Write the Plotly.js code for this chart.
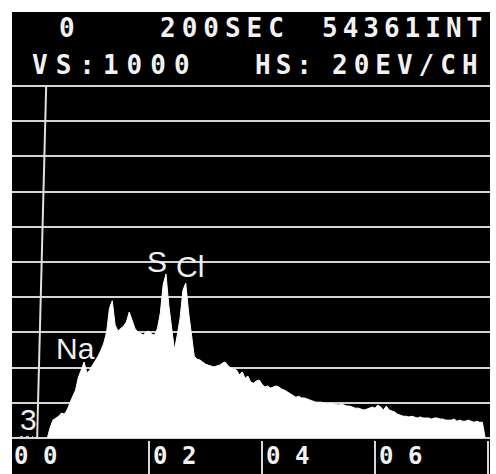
<!DOCTYPE html>
<html>
<head>
<meta charset="utf-8">
<script src="https://cdn.plot.ly/plotly-3.0.1.min.js"></script>
<style>html,body{margin:0;padding:0;background:#fff;}#chart{width:496px;height:474px;}</style>
</head>
<body>
<div id="chart"></div>
<script>
// EDS spectrum: channel energies start at START_KEV, step STEP_KEV (keV)
const START_KEV = 0.20;
const STEP_KEV = 0.05;
const counts = [
  0,30,51,57,62,71,68,80,97,119,
  136,173,193,216,185,193,207,219,233,250,
  270,301,369,390,321,304,312,318,330,358,
  335,312,301,298,293,301,304,295,293,312,
  355,435,466,378,321,250,293,341,420,440,
  358,287,233,224,222,216,210,207,205,202,
  205,207,213,216,205,199,196,193,179,188,
  170,176,159,156,162,165,153,145,148,142,
  145,148,145,139,136,131,125,119,116,119,
  114,114,111,108,105,102,102,102,99,97,
  99,97,94,94,97,94,91,91,88,85,
  85,82,80,82,85,88,85,94,88,80,
  91,80,77,74,68,65,62,62,60,62,
  60,57,60,57,57,57,54,57,57,54,
  54,51,51,51,54,48,51,48,48,51,
  48,45,48,45,45,0
];
const gridCounts = [0,100,200,300,400,500,600,700,800,900,1000];
const xTickKeV = [2,4,6,8];
const xTickLabels = ["0 2","0 4","0 6"];
const xTickLabelKeV = [2,4,6];
const peakLabels = ["Na","S","Cl"];

const trace = {
  type: 'scatter', mode: 'lines',
  x0: START_KEV, dx: STEP_KEV, y: counts,
  line: {color: '#ffffff', width: 1, shape: 'linear'},
  fill: 'tozeroy', fillcolor: '#ffffff',
  hoverinfo: 'skip'
};

const mono = {family: 'DejaVu Sans Mono', size: 26, color: '#f2f2f2', weight: 'bold'};
const monoSmall = {family: 'DejaVu Sans Mono', size: 24, color: '#f2f2f2', weight: 'bold'};
const sans = {family: 'Liberation Sans, Arial', size: 30, color: '#f0f0f0'};

function hdr(text, x, y, ls) {
  return {text: '<span style="letter-spacing:' + ls + 'px">' + text + '</span>',
    xref: 'paper', yref: 'paper', x: x, y: y, xanchor: 'left', yanchor: 'middle',
    showarrow: false, font: mono};
}

const annotations = [
  hdr('0', 0.0941, 0.9654, 6),
  hdr('200SEC', 0.3054, 0.9654, 6),
  hdr('54361INT', 0.6444, 0.9654, 5),
  hdr('VS:1000', 0.0377, 0.8853, 8),
  hdr('HS:', 0.5042, 0.8853, 5),
  hdr('20EV/CH', 0.6653, 0.8853, 6),
  {text: '0 0', xref: 'paper', yref: 'paper', x: 0.0, y: 0.039, xanchor: 'left', yanchor: 'middle', showarrow: false, font: monoSmall},
  {text: peakLabels[0], xref: 'paper', yref: 'paper', x: 0.1318, y: 0.2706, xanchor: 'center', yanchor: 'middle', showarrow: false, font: sans},
  {text: peakLabels[1], xref: 'paper', yref: 'paper', x: 0.3033, y: 0.461, xanchor: 'center', yanchor: 'middle', showarrow: false, font: sans},
  {text: peakLabels[2], xref: 'paper', yref: 'paper', x: 0.3724, y: 0.450, xanchor: 'center', yanchor: 'middle', showarrow: false, font: sans},
  {text: '3', xref: 'paper', yref: 'paper', x: 0.0345, y: 0.119, xanchor: 'center', yanchor: 'middle', showarrow: false, font: sans}
];
xTickLabelKeV.forEach((k, i) => {
  annotations.push({text: xTickLabels[i], xref: 'x', yref: 'paper', x: k, y: 0.039,
    xanchor: 'left', yanchor: 'middle', xshift: 2, showarrow: false, font: monoSmall});
});

const layout = {
  width: 496, height: 474,
  margin: {l: 12, r: 6, t: 12, b: 0, pad: 0},
  paper_bgcolor: '#ffffff', plot_bgcolor: '#000000',
  showlegend: false,
  xaxis: {range: [-0.425, 8.035], showgrid: false, zeroline: false, showline: false,
    tickvals: xTickKeV, ticks: 'inside', ticklen: 33, tickwidth: 2, tickcolor: '#d8d8d8',
    showticklabels: false, fixedrange: true},
  yaxis: {range: [-102, 1210], tickvals: gridCounts, showgrid: true, gridcolor: '#d4d4d4',
    gridwidth: 2, zeroline: false, showline: false, showticklabels: false, ticks: '', fixedrange: true},
  shapes: [
    {type: 'line', xref: 'x', yref: 'y', x0: 0.02, y0: 0, x1: 0.18, y1: 1000,
      line: {color: '#e0e0e0', width: 2}},
    {type: 'line', xref: 'paper', yref: 'paper', x0: 0.0167, y0: 0.080, x1: 0.0439, y1: 0.080,
      line: {color: '#cfcfcf', width: 2, dash: 'dot'}}
  ],
  annotations: annotations
};

Plotly.newPlot('chart', [trace], layout, {displayModeBar: false, staticPlot: true});
</script>
</body>
</html>
